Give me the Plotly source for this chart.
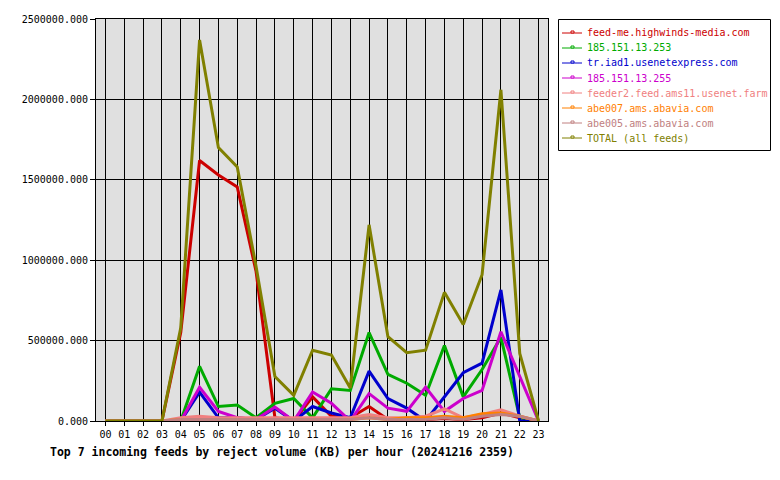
import plotly.graph_objects as go

hours = list(range(24))
hour_labels = [f"{h:02d}" for h in hours]

names = [
    "feed-me.highwinds-media.com",
    "185.151.13.253",
    "tr.iad1.usenetexpress.com",
    "185.151.13.255",
    "feeder2.feed.ams11.usenet.farm",
    "abe007.ams.abavia.com",
    "abe005.ams.abavia.com",
    "TOTAL (all feeds)",
]
colors = ["#CC0000", "#00AA00", "#0000CC", "#CC00CC", "#F08080", "#FF8000", "#C08080", "#808000"]

feed_me = [0, 0, 0, 0, 550000, 1620000, 1530000, 1455000, 930000, 20000, 0, 150000,
           30000, 20000, 90000, 10000, 10000, 10000, 15000, 10000, 20000, 50000, 20000, 0]
ip253 = [0, 0, 0, 0, 0, 340000, 90000, 100000, 20000, 110000, 140000, 20000,
         200000, 190000, 550000, 290000, 235000, 160000, 470000, 150000, 320000, 520000, 20000, 0]
usenetexpress = [0, 0, 0, 0, 0, 180000, 20000, 20000, 10000, 80000, 0, 90000,
                 50000, 20000, 310000, 140000, 80000, 0, 150000, 300000, 360000, 815000, 0, 0]
ip255 = [0, 0, 0, 0, 0, 210000, 60000, 20000, 10000, 87000, 0, 180000,
         110000, 0, 170000, 80000, 60000, 210000, 60000, 140000, 190000, 555000, 280000, 0]
feeder2 = [0, 0, 0, 0, 20000, 30000, 20000, 20000, 20000, 20000, 20000, 20000,
           20000, 20000, 40000, 20000, 20000, 30000, 75000, 20000, 40000, 70000, 30000, 0]
abe007 = [0, 0, 0, 0, 10000, 10000, 10000, 10000, 10000, 10000, 10000, 10000,
          0, 10000, 20000, 10000, 20000, 20000, 30000, 20000, 45000, 50000, 30000, 0]
abe005 = [0, 0, 0, 0, 10000, 10000, 10000, 10000, 10000, 10000, 10000, 10000,
          10000, 10000, 20000, 10000, 10000, 10000, 20000, 10000, 30000, 40000, 30000, 0]
total = [0, 0, 0, 0, 580000, 2370000, 1700000, 1580000, 960000, 276000, 160000, 440000,
         410000, 205000, 1220000, 524000, 425000, 440000, 800000, 600000, 910000, 2060000, 420000, 0]

series = [feed_me, ip253, usenetexpress, ip255, feeder2, abe007, abe005, total]

y_ticks = [0, 500000, 1000000, 1500000, 2000000, 2500000]

FONT = "DejaVu Sans Mono"

W, H = 780, 480
L, R, T, B = 96, 548, 19, 421

def px(x):
    return (x - L) / (R - L)

def py(y):
    return (B - y) / (B - T)

fig = go.Figure()
for name, col, vals in zip(names, colors, series):
    fig.add_trace(go.Scatter(x=hours, y=vals, mode="lines", name=name,
                             line=dict(color=col, width=3), showlegend=False))

shapes = []
annotations = []
# legend box
shapes.append(dict(type="rect", xref="paper", yref="paper",
                   x0=px(558.5), x1=px(770.5), y0=py(150.5), y1=py(19.5),
                   line=dict(color="black", width=1), fillcolor="white", layer="above"))
for i, (name, col) in enumerate(zip(names, colors)):
    yc = 33 + 15 * i
    shapes.append(dict(type="line", xref="paper", yref="paper",
                       x0=px(562), x1=px(582), y0=py(yc), y1=py(yc),
                       line=dict(color=col, width=1), layer="above"))
    shapes.append(dict(type="rect", xref="paper", yref="paper",
                       x0=px(571), x1=px(574), y0=py(yc), y1=py(yc - 2),
                       line=dict(color=col, width=1), fillcolor="white", layer="above"))
    annotations.append(dict(xref="paper", yref="paper", x=px(585), y=py(yc),
                            xanchor="left", yanchor="middle", showarrow=False,
                            text=name, font=dict(family=FONT, size=10, color=col)))

annotations.append(dict(xref="paper", yref="paper", x=px(48), y=py(452),
                        xanchor="left", yanchor="middle", showarrow=False,
                        text="<b>Top 7 incoming feeds by reject volume (KB) per hour (20241216 2359)</b>",
                        font=dict(family=FONT, size=11.5, color="black")))

fig.update_layout(
    width=W, height=H,
    margin=dict(l=L, r=W - R, t=T, b=H - B, pad=0),
    paper_bgcolor="white",
    plot_bgcolor="#E0E0E0",
    font=dict(family=FONT, size=10, color="black"),
    shapes=shapes,
    annotations=annotations,
    showlegend=False,
)
fig.update_xaxes(range=[-0.5, 23.5], tickvals=hours, ticktext=hour_labels,
                 showgrid=True, gridcolor="black", gridwidth=1,
                 ticks="outside", ticklen=4, tickcolor="black",
                 showline=True, linecolor="black", linewidth=1, mirror=True,
                 zeroline=False, tickfont=dict(family=FONT, size=10))
fig.update_yaxes(range=[0, 2500000], tickvals=y_ticks,
                 ticktext=[f"{v:.3f}" for v in y_ticks],
                 showgrid=True, gridcolor="black", gridwidth=1,
                 ticks="outside", ticklen=5, tickcolor="black",
                 showline=True, linecolor="black", linewidth=1, mirror=True,
                 zeroline=False, tickfont=dict(family=FONT, size=10))

fig.write_html("out.html")
